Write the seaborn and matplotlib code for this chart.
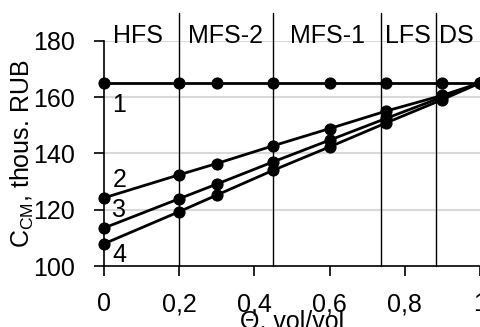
import matplotlib
matplotlib.use("Agg")
import matplotlib.pyplot as plt
import seaborn as sns
import pandas as pd

theta = [0, 0.2, 0.3, 0.45, 0.6, 0.75, 0.9, 1.0]
curve_1 = [165, 165, 165, 165, 165, 165, 165, 165]
curve_2 = [124.2, 132.4, 136.4, 142.7, 148.8, 155.0, 160.6, 165]
curve_3 = [113.5, 123.9, 129.1, 137.0, 144.7, 152.4, 160.0, 165]
curve_4 = [107.9, 119.3, 125.2, 134.0, 142.3, 150.8, 159.1, 165]
curve_names = ["1", "2", "3", "4"]
label_y = [157, 130.5, 120, 104]

zones = ["HFS", "MFS-2", "MFS-1", "LFS", "DS"]
zone_centers = [0.09, 0.324, 0.595, 0.809, 0.937]
zone_bounds = [0.2, 0.45, 0.738, 0.882]

xticks = [0, 0.2, 0.4, 0.6, 0.8, 1.0]
xtick_labels = ["0", "0,2", "0,4", "0,6", "0,8", "1"]
yticks = [100, 120, 140, 160, 180]

sns.set_style("white")
plt.rcParams["font.family"] = ["Liberation Sans", "DejaVu Sans"]
plt.rcParams["text.color"] = "black"
plt.rcParams["axes.labelcolor"] = "black"
plt.rcParams["xtick.color"] = "black"
plt.rcParams["ytick.color"] = "black"
fs = 18

df = pd.DataFrame({"theta": theta * 4,
                   "cost": curve_1 + curve_2 + curve_3 + curve_4,
                   "curve": [n for n in curve_names for _ in theta]})

fig = plt.figure(figsize=(4.8, 3.27), dpi=100)
ax = fig.add_axes([0.2167, 0.1865, 0.7833, 0.689])

for y in yticks[1:]:
    ax.axhline(y, color="#d9d9d9", lw=1.5, zorder=0)

sns.lineplot(data=df, x="theta", y="cost", units="curve", estimator=None,
             color="black", lw=2, marker="o", markersize=8,
             markeredgecolor="black", ax=ax, legend=False, clip_on=False, zorder=3)

for b in zone_bounds:
    ax.plot([b, b], [100, 190], color="black", lw=1, clip_on=False, zorder=2)
for name, xc in zip(zones, zone_centers):
    ax.text(xc, 181.5, name, ha="center", va="center", fontsize=fs)

for name, ly in zip(curve_names, label_y):
    ax.text(0.022, ly, name, ha="left", va="center", fontsize=fs)

ax.set_xlim(0, 1.0)
ax.set_ylim(100, 180)
ax.set_xticks(xticks)
ax.set_xticklabels(xtick_labels)
ax.set_yticks(yticks)
ax.tick_params(axis="both", direction="out", length=7, width=1.2, color="black",
               labelsize=fs, bottom=True, left=True)
ax.tick_params(axis="x", pad=12)
ax.tick_params(axis="y", pad=14)

for s in ["top", "right"]:
    ax.spines[s].set_visible(False)
for s in ["left", "bottom"]:
    ax.spines[s].set_color("black")
    ax.spines[s].set_linewidth(1.2)

ax.set_xlabel("\u0398, vol/vol", fontsize=fs, labelpad=-5)
ax.set_ylabel("$\\mathregular{C_{CM}}$, thous. RUB", fontsize=fs, labelpad=-2)

fig.savefig("out.png", dpi=100)
